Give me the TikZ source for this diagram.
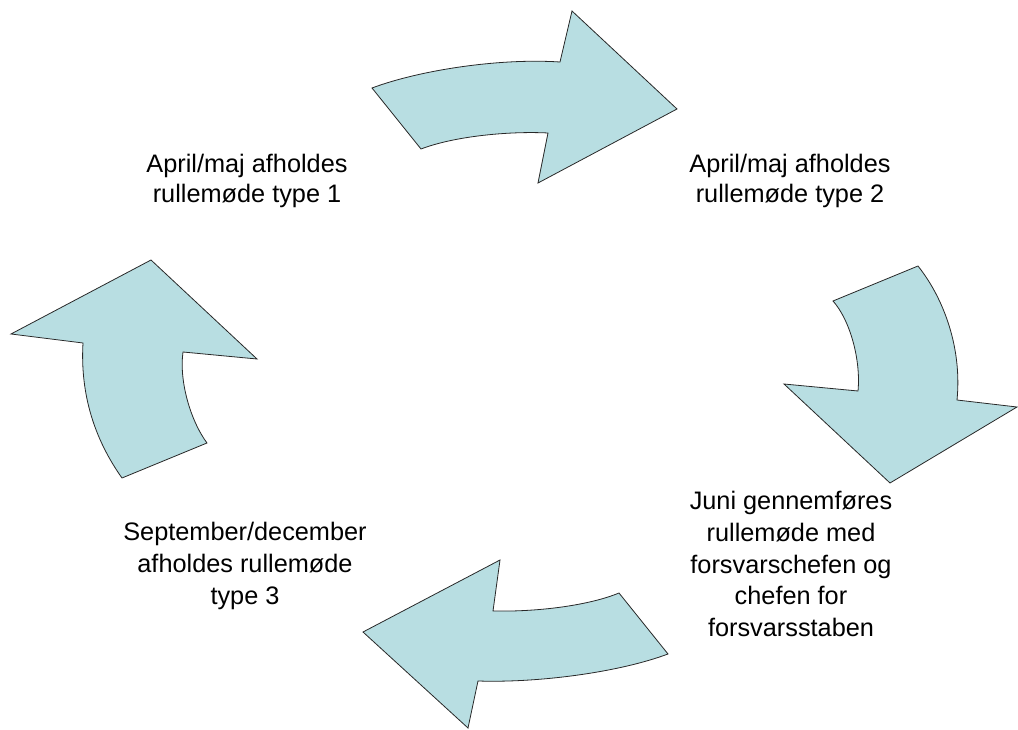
\documentclass[tikz,border=0pt]{standalone}
\usepackage{fontspec}
\setmainfont{Liberation Sans}
\definecolor{arrowfill}{RGB}{184,222,226}
\definecolor{arrowline}{RGB}{40,40,40}
\begin{document}
\begin{tikzpicture}[x=1pt,y=-1pt,
  cyclearrow/.style={fill=arrowfill,draw=arrowline,line width=0.8pt,line join=miter},
  steplabel/.style={align=center,inner sep=0pt,font=\fontsize{25.3}{30}\selectfont},
  widelabel/.style={steplabel,font=\fontsize{25.3}{31.8}\selectfont}]
  \useasboundingbox (0,0) rectangle (1018,730);

  % top arrow, pointing right
  \draw[cyclearrow] (372,88) .. controls (420,70) and (500,58) .. (560,62)
    -- (572,11) -- (677,109) -- (538,183) -- (548,133)
    .. controls (510,131) and (455,136) .. (421,149) -- cycle;

  % right arrow, pointing down
  \draw[cyclearrow] (833,301) -- (918,266)
    .. controls (945,300) and (962,350) .. (957,400)
    -- (1017,407) -- (890,483) -- (784,384) -- (858,391)
    .. controls (861,360) and (850,320) .. (833,301) -- cycle;

  % bottom arrow, pointing left
  \draw[cyclearrow] (619,593) -- (668,654)
    .. controls (620,672) and (540,683) .. (478,681)
    -- (468,728) -- (363,632) -- (500,560) -- (493,611)
    .. controls (540,612) and (590,605) .. (619,593) -- cycle;

  % left arrow, pointing up
  \draw[cyclearrow] (207,443) -- (122,478)
    .. controls (95,440) and (80,395) .. (83,343)
    -- (11,334) -- (151,260) -- (257,359) -- (183,352)
    .. controls (179,380) and (190,420) .. (207,443) -- cycle;

  \node[steplabel] (type1) at (247,181) {April/maj afholdes\\rullemøde type 1};
  \node[steplabel] (type2) at (790,181) {April/maj afholdes\\rullemøde type 2};
  \node[widelabel] (juni) at (791,564) {Juni gennemføres\\rullemøde med\\forsvarschefen og\\chefen for\\forsvarsstaben};
  \node[widelabel] (type3) at (245,566) {September/december\\afholdes rullemøde\\type 3};
\end{tikzpicture}
\end{document}
